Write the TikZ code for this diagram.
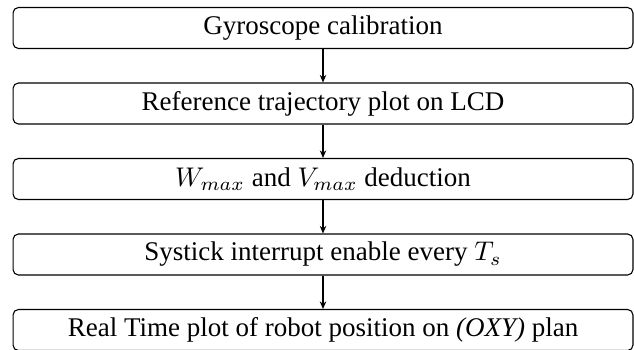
\documentclass[tikz,border=0pt]{standalone}
\usepackage{fontspec}
\setmainfont{Liberation Serif}
\usetikzlibrary{arrows.meta}
\begin{document}
\begin{tikzpicture}[x=0.37037pt, y=-0.37037pt,
  stagebox/.style={draw=black, line width=0.4pt, rounded corners=2pt,
    minimum width=229.6pt, minimum height=15.2pt, inner sep=0pt,
    font=\fontsize{10}{12}\selectfont},
  flow/.style={draw=black, line width=0.4pt, -{Stealth[length=2.8pt,width=2.4pt]}}]
\useasboundingbox (0,0) rectangle (634,349);
\node[stagebox] (b1) at (323,28) {Gyroscope calibration};
\node[stagebox] (b2) at (323,103.5) {Reference trajectory plot on LCD};
\node[stagebox] (b3) at (323,179) {$W_{max}$ and $V_{max}$ deduction};
\node[stagebox] (b4) at (323,254.5) {Systick interrupt enable every $T_s$};
\node[stagebox] (b5) at (323,330) {Real Time plot of robot position on \textit{(OXY)} plan};
\draw[flow] (b1) -- (b2);
\draw[flow] (b2) -- (b3);
\draw[flow] (b3) -- (b4);
\draw[flow] (b4) -- (b5);
\end{tikzpicture}
\end{document}
